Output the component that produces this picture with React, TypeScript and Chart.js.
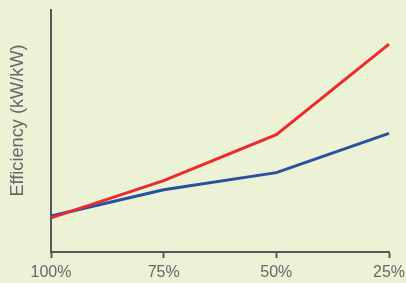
import React, { useEffect, useRef } from "react";
import { Chart, registerables } from "chart.js";

Chart.register(...registerables);

const categories = ["100%", "75%", "50%", "25%"];
const redSeries = [14.1, 29.5, 48.5, 85.9];
const blueSeries = [14.9, 25.7, 32.8, 49.0];
const yTitle = "Efficiency (kW/kW)";

const BG = "#ebf2d6";
const AXIS = "#555855";
const TEXT = "#666666";
const FONT = "'Liberation Sans', Arial, sans-serif";

export default function App() {
  const ref = useRef<HTMLCanvasElement | null>(null);
  useEffect(() => {
    if (!ref.current) return;
    const bgPlugin = {
      id: "bg",
      beforeDraw(chart: any) {
        const c = chart.ctx;
        c.save();
        c.fillStyle = BG;
        c.fillRect(0, 0, chart.width, chart.height);
        c.restore();
      },
    };
    const titlePlugin = {
      id: "ytitle",
      afterDraw(chart: any) {
        const c = chart.ctx;
        c.save();
        c.translate(18, 120.5);
        c.rotate(-Math.PI / 2);
        c.font = `18.2px ${FONT}`;
        c.fillStyle = TEXT;
        c.textAlign = "center";
        c.textBaseline = "middle";
        c.fillText(yTitle, 0, 0);
        c.restore();
      },
    };
    const chart = new Chart(ref.current, {
      type: "line",
      data: {
        labels: categories,
        datasets: [
          {
            data: redSeries,
            borderColor: "#ec2a2e",
            borderWidth: 3,
            pointRadius: 0,
            tension: 0,
            clip: false as any,
          },
          {
            data: blueSeries,
            borderColor: "#2a4f9f",
            borderWidth: 3,
            pointRadius: 0,
            tension: 0,
            clip: false as any,
          },
        ],
      },
      options: {
        responsive: false,
        animation: false,
        layout: { padding: { top: 10, right: 17, left: 0, bottom: 0 } },
        plugins: { legend: { display: false }, tooltip: { enabled: false } },
        scales: {
          x: {
            offset: false,
            grid: {
              display: true,
              drawOnChartArea: false,
              drawTicks: true,
              tickLength: 6,
              tickWidth: 2,
              tickColor: AXIS,
              color: AXIS,
            },
            border: { display: true, color: AXIS, width: 2 },
            ticks: {
              color: TEXT,
              font: { size: 16, family: FONT },
              padding: 5,
              maxRotation: 0,
              autoSkip: false,
            },
            afterFit(scale: any) {
              scale.height = 31;
              scale.paddingLeft = 0;
              scale.paddingRight = 0;
            },
          },
          y: {
            min: 0,
            max: 100,
            grid: { display: false, drawTicks: false },
            border: { display: true, color: AXIS, width: 2 },
            ticks: { display: false },
            afterFit(scale: any) {
              scale.width = 51;
            },
          },
        },
      },
      plugins: [bgPlugin, titlePlugin],
    });
    return () => chart.destroy();
  }, []);
  return (
    <div style={{ position: "fixed", left: 0, top: 0, width: 406, height: 283, background: BG }}>
      <canvas ref={ref} width={406} height={283} style={{ display: "block", width: 406, height: 283 }} />
    </div>
  );
}
